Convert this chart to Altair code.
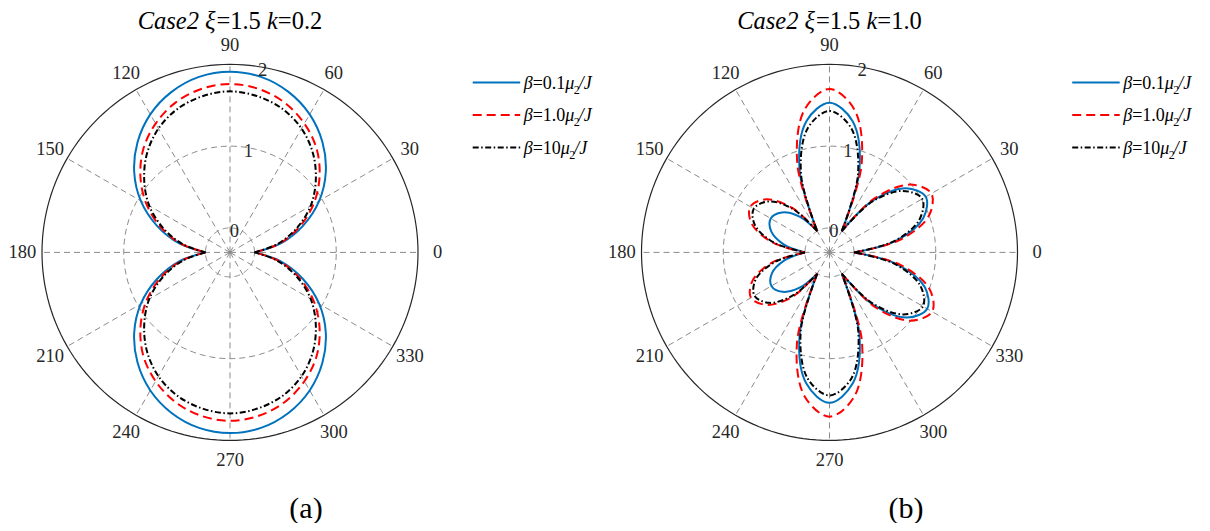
import altair as alt
import pandas as pd

# ---------------- data ----------------
theta_deg = list(range(0, 361, 10))

# panel (a): Case2 xi=1.5 k=0.2
r_a_blue = [0.00, 0.33, 0.65, 0.96, 1.23, 1.46, 1.65, 1.79, 1.88, 1.91, 1.88, 1.79, 1.65, 1.46, 1.23, 0.96, 0.65, 0.33, 0.00,
            0.33, 0.65, 0.96, 1.23, 1.46, 1.65, 1.79, 1.88, 1.91, 1.88, 1.79, 1.65, 1.46, 1.23, 0.96, 0.65, 0.33, 0.00]
r_a_red = [0.00, 0.31, 0.60, 0.88, 1.13, 1.35, 1.52, 1.65, 1.73, 1.76, 1.73, 1.65, 1.52, 1.35, 1.13, 0.88, 0.60, 0.31, 0.00,
           0.31, 0.60, 0.88, 1.13, 1.35, 1.52, 1.65, 1.73, 1.76, 1.73, 1.65, 1.52, 1.35, 1.13, 0.88, 0.60, 0.31, 0.00]
r_a_black = [0.00, 0.29, 0.57, 0.84, 1.07, 1.28, 1.45, 1.57, 1.64, 1.67, 1.64, 1.57, 1.45, 1.28, 1.07, 0.84, 0.57, 0.29, 0.00,
             0.29, 0.57, 0.84, 1.07, 1.28, 1.45, 1.57, 1.64, 1.67, 1.64, 1.57, 1.45, 1.28, 1.07, 0.84, 0.57, 0.29, 0.00]

# panel (b): Case2 xi=1.5 k=1.0
r_b_blue = [0.00, 0.53, 0.92, 1.06, 0.92, 0.53, 0.00, 0.77, 1.33, 1.53, 1.33, 0.77, 0.00, 0.27, 0.46, 0.53, 0.46, 0.27, 0.00,
            0.26, 0.45, 0.52, 0.45, 0.26, 0.00, 0.77, 1.33, 1.54, 1.33, 0.77, 0.00, 0.54, 0.94, 1.08, 0.94, 0.54, 0.00]
r_b_red = [0.00, 0.57, 0.99, 1.14, 0.99, 0.57, 0.00, 0.85, 1.47, 1.70, 1.47, 0.85, 0.00, 0.41, 0.71, 0.82, 0.71, 0.41, 0.00,
           0.41, 0.70, 0.81, 0.70, 0.41, 0.00, 0.86, 1.48, 1.71, 1.48, 0.86, 0.00, 0.58, 1.00, 1.15, 1.00, 0.58, 0.00]
r_b_black = [0.00, 0.51, 0.87, 1.01, 0.87, 0.51, 0.00, 0.72, 1.24, 1.43, 1.24, 0.72, 0.00, 0.39, 0.67, 0.77, 0.67, 0.39, 0.00,
             0.38, 0.66, 0.76, 0.66, 0.38, 0.00, 0.73, 1.26, 1.45, 1.26, 0.73, 0.00, 0.51, 0.88, 1.02, 0.88, 0.51, 0.00]

panels = ["a", "b"]
panel_k = ["0.2", "1.0"]
xi_value = "1.5"
case_label = "Case2"
captions = ["(a)", "(b)"]
series_names = ["b01", "b10", "b100"]
beta_labels = ["0.1", "1.0", "10"]
angle_ticks = list(range(0, 360, 30))
r_ticks = [0, 1, 2]
R_MIN, R_MAX = -0.3, 2.0
lobe_breaks = {"a": [0, 180, 360], "b": [0, 60, 120, 180, 240, 300, 360]}

curves = {
    ("a", "b01"): r_a_blue, ("a", "b10"): r_a_red, ("a", "b100"): r_a_black,
    ("b", "b01"): r_b_blue, ("b", "b10"): r_b_red, ("b", "b100"): r_b_black,
}

# ---------------- layout ----------------
W, H = 1194, 515
OUTER_PX = 188.0
PX = OUTER_PX / (R_MAX - R_MIN)          # px per radial unit
CX = [222.0, 821.5]                      # centres in plot-area px
CY = 244.4
D = (CX[1] - CX[0]) / PX
xs = alt.Scale(domain=[-CX[0] / PX, (W - CX[0]) / PX], nice=False, zero=False)
ys = alt.Scale(domain=[-(H - CY) / PX, CY / PX], nice=False, zero=False)

FONT = "Liberation Serif"
TXT = "#262626"
GRID = "#8a8a8a"
OFF = f"(datum.panel == 'b' ? {D} : 0)"

styles = {
    "b01": dict(color="#0072BD"),
    "b10": dict(color="#FF0000", strokeDash=[9, 5]),
    "b100": dict(color="#000000", strokeDash=[6, 2.5, 1.5, 2.5]),
}

rows = []
for p in panels:
    br = lobe_breaks[p]
    for s in series_names:
        rv = curves[(p, s)]
        for i in range(len(br) - 1):
            for t, r in zip(theta_deg, rv):
                if br[i] <= t <= br[i + 1]:
                    rows.append(dict(panel=p, series=s, seg=f"{p}{i}", theta=t, r=r))
df = pd.DataFrame(rows)

X = lambda f: alt.X(f"{f}:Q", scale=xs, axis=None)
Y = lambda f: alt.Y(f"{f}:Q", scale=ys, axis=None)

layers = []

# grid rings (dashed) and outer circle (solid)
for p in panels:
    off = 0 if p == "a" else D
    for rr, solid in [(v, False) for v in r_ticks[:-1]] + [(R_MAX, True)]:
        rho = rr - R_MIN
        kw = dict(color=TXT, strokeWidth=1.2) if solid else dict(color=GRID, strokeWidth=1, strokeDash=[6, 4])
        layers.append(
            alt.Chart(alt.sequence(0, 362, 2, as_="a"))
            .transform_calculate(x=f"{off} + {rho} * cos(datum.a * PI / 180)",
                                 y=f"{rho} * sin(datum.a * PI / 180)")
            .mark_line(**kw)
            .encode(x=X("x"), y=Y("y"), order="a:Q")
        )

# spokes
df_sp = pd.DataFrame([dict(panel=p, ang=a, lab=str(a)) for p in panels for a in angle_ticks])
layers.append(
    alt.Chart(df_sp)
    .transform_calculate(x0=f"{OFF}", y0="0",
                         x1=f"{OFF} + {R_MAX - R_MIN} * cos(datum.ang * PI / 180)",
                         y1=f"{R_MAX - R_MIN} * sin(datum.ang * PI / 180)")
    .mark_rule(color=GRID, strokeWidth=1, strokeDash=[6, 4])
    .encode(x=X("x0"), y=Y("y0"), x2="x1:Q", y2="y1:Q")
)

# curves
for s in series_names:
    layers.append(
        alt.Chart(df)
        .transform_filter(alt.datum.series == s)
        .transform_calculate(x=f"{OFF} + (datum.r - ({R_MIN})) * cos(datum.theta * PI / 180)",
                             y=f"(datum.r - ({R_MIN})) * sin(datum.theta * PI / 180)")
        .mark_line(strokeWidth=2, interpolate="catmull-rom", **styles[s])
        .encode(x=X("x"), y=Y("y"), detail="seg:N", order="theta:Q")
    )

# angle labels
LR = 2.54
layers.append(
    alt.Chart(df_sp)
    .transform_calculate(x=f"{OFF} + {LR} * cos(datum.ang * PI / 180)",
                         y=f"{LR} * sin(datum.ang * PI / 180)")
    .mark_text(font=FONT, fontSize=18.5, color=TXT, align="center", baseline="middle")
    .encode(x=X("x"), y=Y("y"), text="lab:N")
)

# radial tick labels at 80 deg
df_rt = pd.DataFrame([dict(panel=p, r=v, lab=str(v)) for p in panels for v in r_ticks])
layers.append(
    alt.Chart(df_rt)
    .transform_calculate(x=f"{OFF} + (datum.r - ({R_MIN})) * cos(80 * PI / 180)",
                         y=f"(datum.r - ({R_MIN})) * sin(80 * PI / 180)")
    .mark_text(font=FONT, fontSize=18.5, color=TXT, align="center", baseline="middle", dy=3)
    .encode(x=X("x"), y=Y("y"), text="lab:N")
)

# ---------------- rich text helpers ----------------
REG = {"=": 0.564, ".": 0.25, " ": 0.25, "(": 0.333, ")": 0.333, "a": 0.444, "b": 0.5, "/": 0.278}
for dgt in "0123456789":
    REG[dgt] = 0.5
ITA = {"C": 0.667, "a": 0.5, "s": 0.389, "e": 0.444, "2": 0.5, "k": 0.444, "J": 0.444,
       "/": 0.278, "ξ": 0.46, "β": 0.5, "μ": 0.52, " ": 0.25}


def tw(s, italic, size):
    tab = ITA if italic else REG
    return sum(tab.get(c, 0.5) for c in s) * size


def txt(text, x, y, size, italic=False, align="left", baseline="alphabetic", color="#000000", dy=0):
    kw = dict(font=FONT, fontSize=size, fontStyle="italic" if italic else "normal",
              align=align, baseline=baseline, color=color)
    if dy:
        kw["dy"] = dy
    return (alt.Chart(pd.DataFrame({"t": [text]}))
            .mark_text(**kw)
            .encode(x=alt.value(x), y=alt.value(y), text="t:N"))


# titles
TS = 24.5
for i, p in enumerate(panels):
    pieces = [(case_label, True), (" ", True), ("ξ", True), ("=" + xi_value, False), (" ", False),
              ("k", True), ("=" + panel_k[i], False)]
    total = sum(tw(s, it, TS) for s, it in pieces)
    x = CX[i] - total / 2
    for s, it in pieces:
        if s.strip():
            layers.append(txt(s, x, 20.5, TS, italic=it))
        x += tw(s, it, TS)

# legends
LS = 18
leg_y = [74.5, 107.0, 139.5]
leg_x0 = [464.7, 464.7 + 599.5]
for i, p in enumerate(panels):
    for j, s in enumerate(series_names):
        st = styles[s]
        kw = dict(color=st["color"], strokeWidth=2)
        if "strokeDash" in st:
            kw["strokeDash"] = st["strokeDash"]
        layers.append(
            alt.Chart(pd.DataFrame({"k": [s]}))
            .mark_rule(**kw)
            .encode(x=alt.value(leg_x0[i]), x2=alt.value(leg_x0[i] + 47.5), y=alt.value(leg_y[j]))
        )
        x = leg_x0[i] + 51
        yb = leg_y[j] + 6
        layers.append(txt("β", x, yb, LS, italic=True))
        x += tw("β", True, LS)
        s2 = "=" + beta_labels[j]
        layers.append(txt(s2, x, yb, LS))
        x += tw(s2, False, LS)
        layers.append(txt("μ", x, yb, LS, italic=True))
        x += tw("μ", True, LS)
        layers.append(txt("2", x - 1, yb + 5, 12))
        x += tw("2", False, 12) - 2
        layers.append(txt("/J", x, yb, LS, italic=True))

# captions
cap_x = [298.0, 898.0]
for i, c in enumerate(captions):
    layers.append(txt(c, cap_x[i], 510, 30, align="center"))

chart = alt.layer(*layers).properties(
    width=W, height=H, padding=0,
    autosize=alt.AutoSizeParams(type="none"),
).configure_view(stroke=None)

chart.save("out.html", embed_options={"renderer": "svg", "actions": False})
